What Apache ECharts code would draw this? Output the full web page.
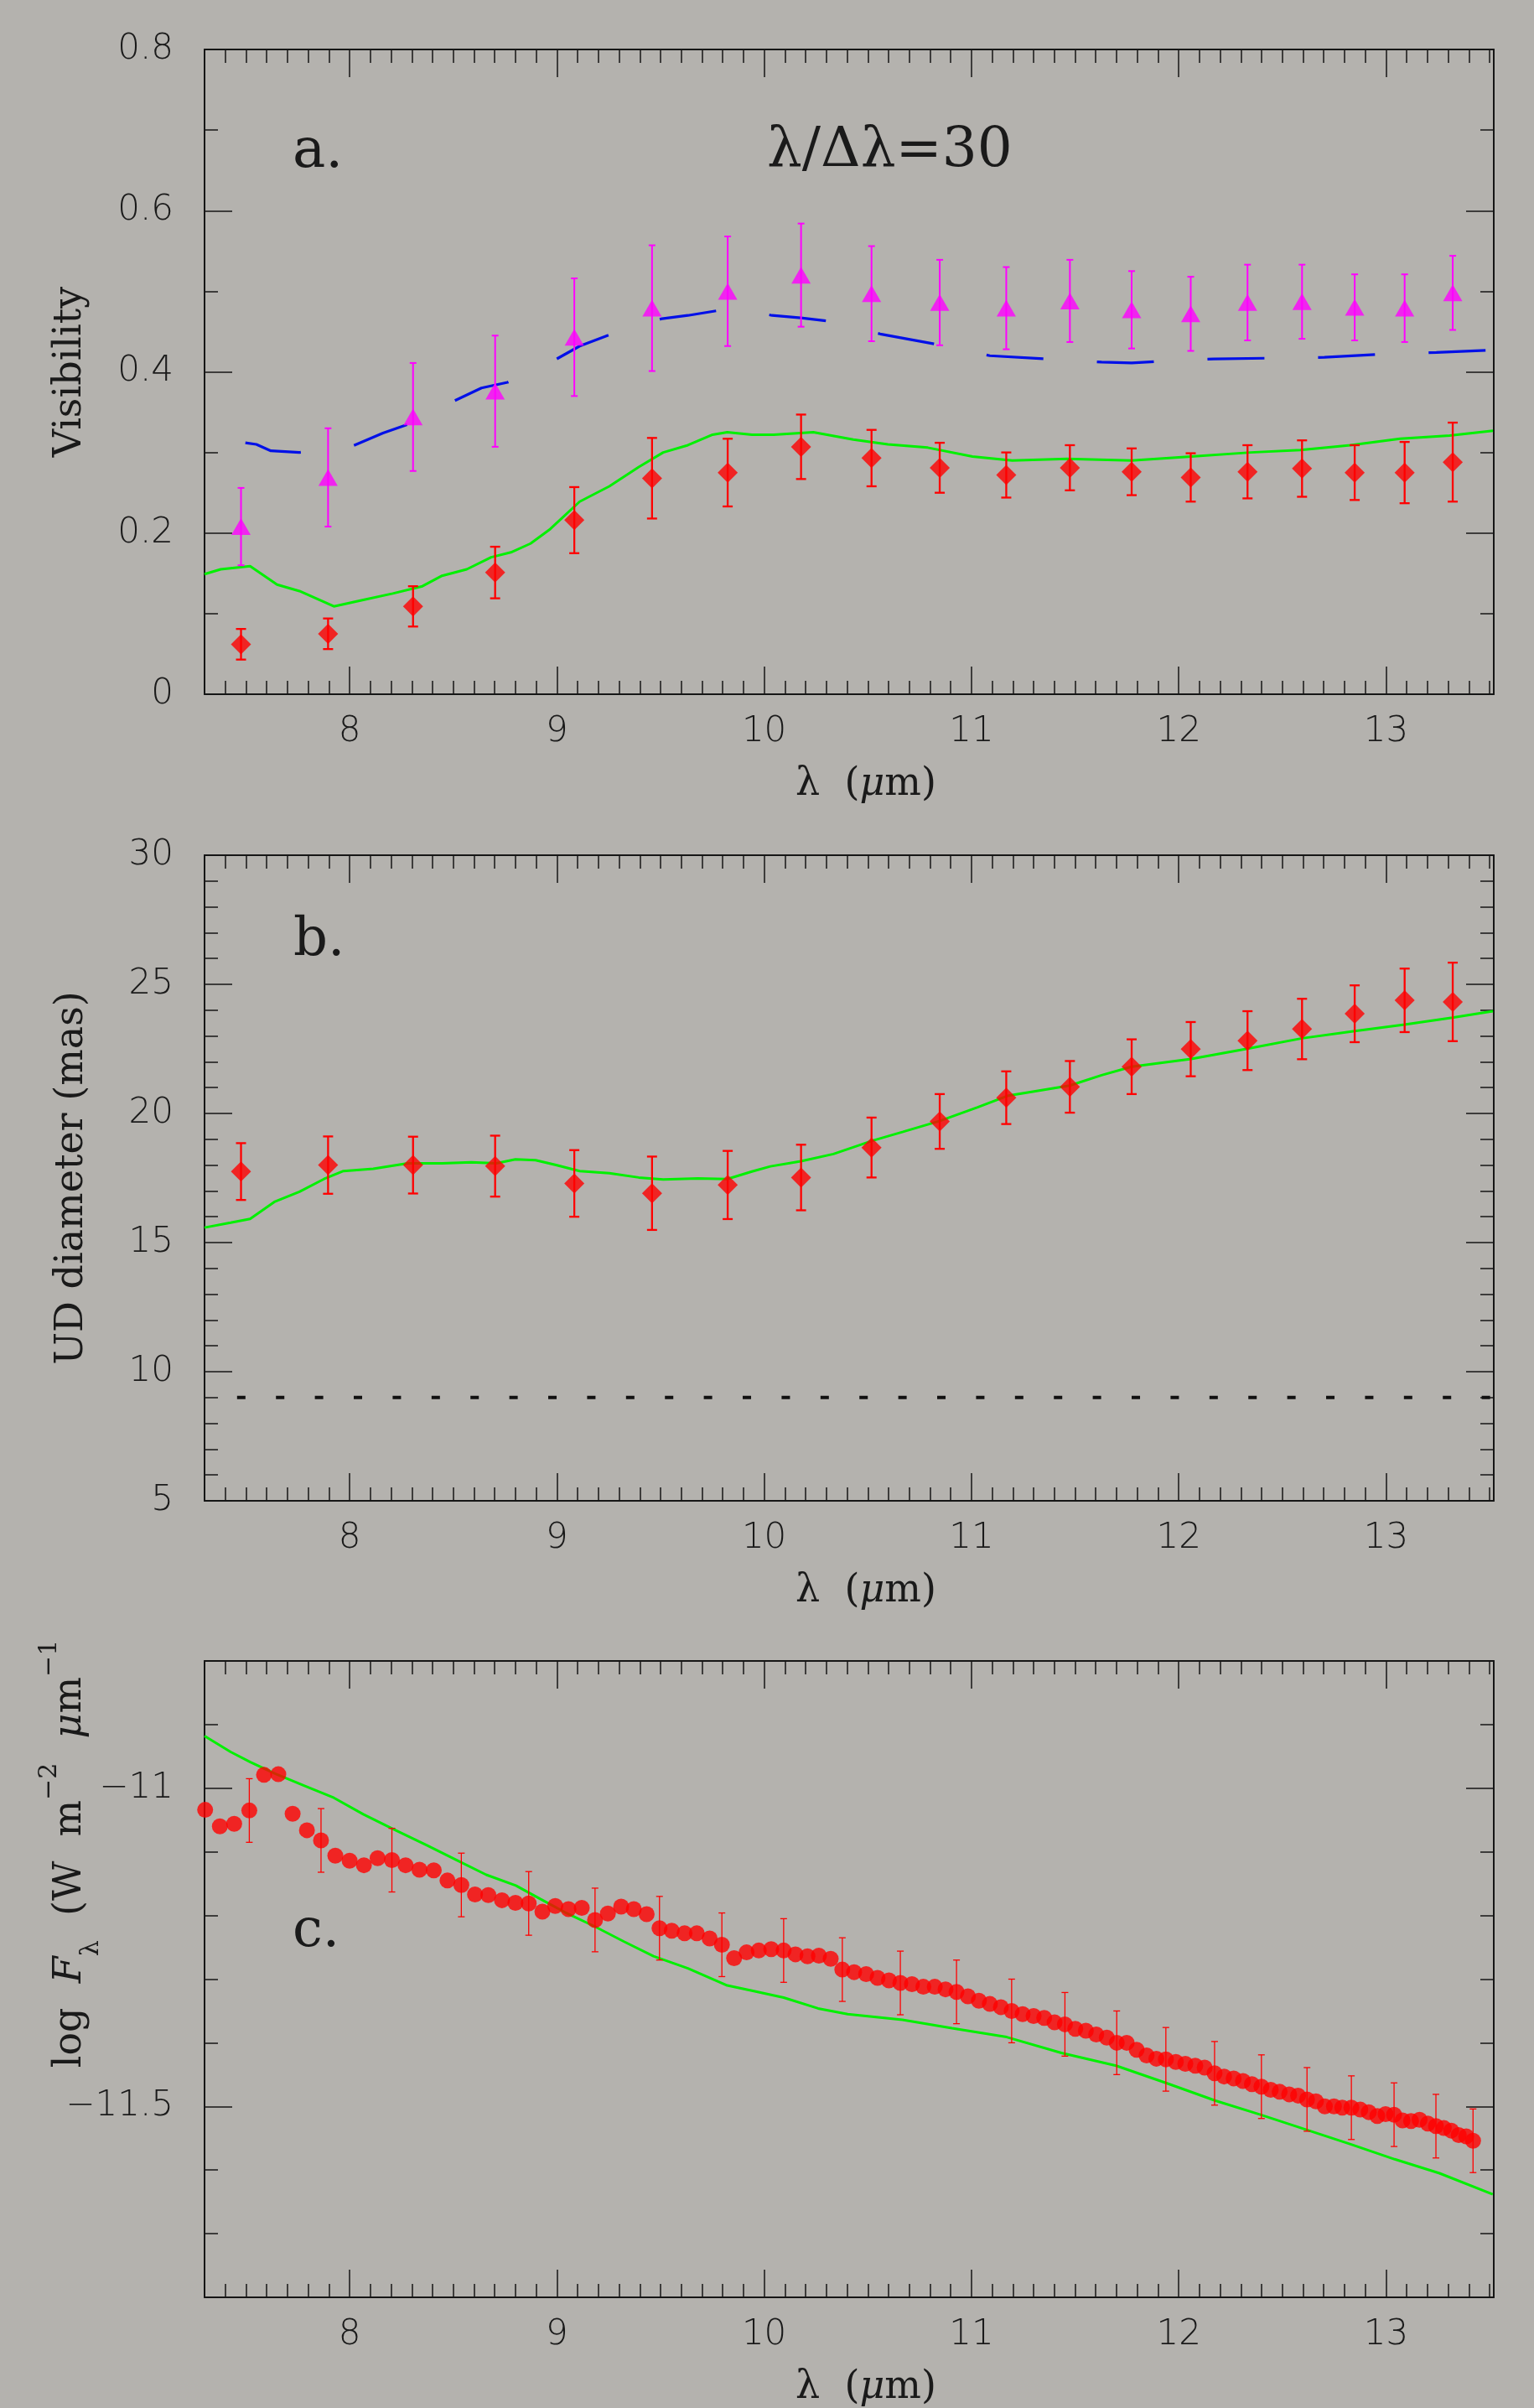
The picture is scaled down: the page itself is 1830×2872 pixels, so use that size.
<!DOCTYPE html>
<html><head><meta charset="utf-8">
<script src="https://cdn.jsdelivr.net/npm/echarts@6/dist/echarts.min.js"></script>
<style>html,body{margin:0;padding:0;background:#b4b2ae}#c{width:1830px;height:2872px}</style>
</head><body><div id="c"></div><script>
// ---------- DATA ----------
// wavelengths (micron) of the binned interferometric points (panels a and b)
const lam = [7.476, 7.896, 8.306, 8.702, 9.084, 9.459, 9.824, 10.178, 10.518, 10.847, 11.168, 11.475, 11.773, 12.058, 12.332, 12.595, 12.849, 13.090, 13.322];
// panel a: visibilities
const visRed = [0.062, 0.075, 0.109, 0.151, 0.216, 0.268, 0.275, 0.307, 0.293, 0.281, 0.272, 0.281, 0.276, 0.269, 0.276, 0.280, 0.275, 0.275, 0.288];
const visRedErr = [0.019, 0.019, 0.025, 0.032, 0.041, 0.050, 0.042, 0.040, 0.035, 0.031, 0.028, 0.028, 0.029, 0.030, 0.033, 0.035, 0.034, 0.038, 0.049];
const visMag = [0.208, 0.269, 0.344, 0.376, 0.443, 0.479, 0.500, 0.520, 0.497, 0.486, 0.479, 0.488, 0.477, 0.472, 0.486, 0.487, 0.480, 0.479, 0.498];
const visMagErr = [0.048, 0.061, 0.067, 0.069, 0.073, 0.078, 0.068, 0.064, 0.059, 0.053, 0.051, 0.051, 0.048, 0.046, 0.047, 0.046, 0.041, 0.042, 0.046];
const lamBlue = [7.497, 7.55, 7.62, 7.758, 8.014, 8.161, 8.304, 8.505, 8.636, 8.762, 8.999, 9.11, 9.253, 9.507, 9.632, 9.775, 9.90, 10.038, 10.177, 10.31, 10.56, 10.835, 11.089, 11.365, 11.628, 11.773, 11.903, 12.168, 12.443, 12.703, 12.978, 13.243, 13.516];
const visBlue = [0.312, 0.310, 0.302, 0.300, 0.308, 0.324, 0.337, 0.364, 0.380, 0.387, 0.416, 0.432, 0.446, 0.466, 0.470, 0.476, 0.477, 0.470, 0.467, 0.463, 0.447, 0.434, 0.420, 0.416, 0.412, 0.411, 0.413, 0.416, 0.417, 0.418, 0.422, 0.424, 0.427];
const lamGA = [7.3, 7.378, 7.52, 7.65, 7.758, 7.924, 8.066, 8.208, 8.351, 8.446, 8.565, 8.683, 8.778, 8.873, 8.968, 9.11, 9.253, 9.395, 9.513, 9.632, 9.751, 9.822, 9.941, 10.046, 10.237, 10.43, 10.597, 10.789, 11.005, 11.197, 11.461, 11.773, 12.06, 12.347, 12.587, 12.828, 13.068, 13.307, 13.516];
const visGA = [0.149, 0.155, 0.159, 0.136, 0.128, 0.109, 0.117, 0.125, 0.134, 0.147, 0.155, 0.170, 0.176, 0.187, 0.205, 0.239, 0.258, 0.282, 0.300, 0.309, 0.322, 0.325, 0.322, 0.322, 0.325, 0.316, 0.310, 0.306, 0.295, 0.290, 0.292, 0.290, 0.295, 0.300, 0.303, 0.309, 0.317, 0.321, 0.327];
// panel b: uniform-disk diameters (mas)
const udRed = [17.75, 18.0, 18.0, 17.96, 17.29, 16.91, 17.23, 17.52, 18.68, 19.69, 20.61, 21.03, 21.81, 22.49, 22.82, 23.27, 23.86, 24.38, 24.32];
const udErr = [1.10, 1.11, 1.10, 1.18, 1.29, 1.42, 1.32, 1.27, 1.16, 1.06, 1.02, 1.00, 1.06, 1.05, 1.14, 1.17, 1.10, 1.23, 1.52];
const lamGB = [7.3, 7.426, 7.52, 7.64, 7.758, 7.876, 7.97, 8.114, 8.28, 8.446, 8.588, 8.707, 8.80, 8.897, 8.992, 9.11, 9.253, 9.395, 9.513, 9.68, 9.822, 9.941, 10.03, 10.177, 10.334, 10.524, 10.67, 10.848, 11.03, 11.173, 11.474, 11.628, 11.773, 12.06, 12.332, 12.595, 12.849, 13.09, 13.32, 13.516];
const udGB = [15.58, 15.77, 15.92, 16.59, 16.97, 17.46, 17.77, 17.86, 18.07, 18.07, 18.11, 18.07, 18.22, 18.19, 18.01, 17.77, 17.69, 17.52, 17.44, 17.48, 17.46, 17.75, 17.95, 18.15, 18.43, 18.95, 19.29, 19.71, 20.24, 20.68, 21.08, 21.48, 21.81, 22.11, 22.51, 22.91, 23.19, 23.44, 23.71, 23.96];
const refLam = [7.457, 13.52];
const refDiam = [9.0, 9.0];
// panel c: spectrum
const lamC = [7.303, 7.374, 7.443, 7.516, 7.587, 7.656, 7.725, 7.794, 7.862, 7.931, 8.000, 8.069, 8.135, 8.204, 8.270, 8.337, 8.406, 8.472, 8.539, 8.605, 8.669, 8.735, 8.800, 8.864, 8.930, 8.992, 9.056, 9.120, 9.184, 9.246, 9.310, 9.371, 9.433, 9.495, 9.554, 9.616, 9.675, 9.737, 9.796, 9.855, 9.915, 9.974, 10.034, 10.094, 10.151, 10.209, 10.264, 10.321, 10.377, 10.434, 10.492, 10.547, 10.602, 10.657, 10.713, 10.768, 10.823, 10.875, 10.928, 10.983, 11.036, 11.089, 11.142, 11.194, 11.247, 11.300, 11.351, 11.401, 11.451, 11.501, 11.552, 11.602, 11.653, 11.701, 11.749, 11.797, 11.845, 11.892, 11.938, 11.986, 12.032, 12.080, 12.125, 12.173, 12.219, 12.265, 12.310, 12.353, 12.399, 12.444, 12.487, 12.533, 12.576, 12.619, 12.662, 12.705, 12.749, 12.789, 12.833, 12.876, 12.917, 12.958, 12.998, 13.039, 13.080, 13.121, 13.162, 13.202, 13.241, 13.279, 13.315, 13.351, 13.387, 13.420];
const fluxC = [-11.034, -11.060, -11.056, -11.035, -10.979, -10.978, -11.040, -11.066, -11.082, -11.106, -11.114, -11.121, -11.110, -11.113, -11.121, -11.128, -11.129, -11.145, -11.152, -11.167, -11.168, -11.176, -11.180, -11.181, -11.194, -11.185, -11.190, -11.188, -11.207, -11.197, -11.186, -11.190, -11.198, -11.220, -11.224, -11.228, -11.228, -11.236, -11.246, -11.267, -11.258, -11.255, -11.253, -11.255, -11.261, -11.264, -11.263, -11.268, -11.285, -11.289, -11.292, -11.298, -11.302, -11.306, -11.308, -11.312, -11.312, -11.316, -11.320, -11.327, -11.334, -11.339, -11.344, -11.350, -11.355, -11.358, -11.361, -11.368, -11.371, -11.378, -11.381, -11.387, -11.392, -11.400, -11.400, -11.411, -11.420, -11.425, -11.426, -11.430, -11.433, -11.436, -11.439, -11.448, -11.453, -11.456, -11.460, -11.465, -11.469, -11.474, -11.477, -11.481, -11.483, -11.489, -11.492, -11.500, -11.500, -11.502, -11.502, -11.505, -11.509, -11.515, -11.512, -11.513, -11.522, -11.523, -11.521, -11.527, -11.531, -11.534, -11.538, -11.545, -11.547, -11.554];
// error bar half-widths on every fifth spectral point (null = no bar drawn)
const fluxErrC = lamC.map((_, i) => (i % 5 === 3 ? 0.05 : null));
const lamGC = [7.3, 7.426, 7.521, 7.64, 7.782, 7.924, 8.066, 8.209, 8.375, 8.517, 8.659, 8.802, 8.92, 9.039, 9.181, 9.324, 9.466, 9.632, 9.822, 9.941, 10.094, 10.26, 10.403, 10.667, 10.906, 11.17, 11.434, 11.698, 11.938, 12.178, 12.394, 12.61, 12.826, 13.042, 13.258, 13.515];
const fluxGC = [-10.918, -10.943, -10.959, -10.977, -10.996, -11.015, -11.041, -11.064, -11.090, -11.113, -11.136, -11.153, -11.174, -11.195, -11.217, -11.241, -11.264, -11.283, -11.310, -11.318, -11.329, -11.346, -11.355, -11.364, -11.377, -11.391, -11.416, -11.436, -11.463, -11.491, -11.513, -11.536, -11.559, -11.583, -11.605, -11.638];
// tick labels
const xTickLabels = [8, 9, 10, 11, 12, 13];
const visTickLabels = [0, 0.2, 0.4, 0.6, 0.8];
const udTickLabels = [5, 10, 15, 20, 25, 30];
const fluxTickLabels = [-11.5, -11];

// ---------- HELPERS ----------
function range(a, b, step) { const r = []; const n = Math.round((b - a) / step); for (let k = 0; k <= n; k++) r.push(+(a + k * step).toFixed(4)); return r; }
const AX = '#161616';
const INK = '#1a1a1a';
const TICKFONT = { fontFamily: "'DejaVu Sans'", fontWeight: 200, fontSize: 42, color: INK };
const TITLEFONT = { fontFamily: "'DejaVu Serif'", fontSize: 46, color: INK };
const MAJ = 33, MIN = 16;

function axes(gi, dim, min, max, major, minor, labelOpts, nameOpts) {
  const pos = dim === 'x' ? ['bottom', 'bottom', 'top', 'top'] : ['left', 'left', 'right', 'right'];
  const out = [];
  for (let k = 0; k < 4; k++) {
    const isMajor = k % 2 === 0;
    const a = {
      type: 'value', gridIndex: gi, position: pos[k], min, max,
      axisLine: { show: isMajor, onZero: false, lineStyle: { color: AX, width: 2 } },
      axisTick: { show: true, inside: true, length: isMajor ? MAJ : MIN, customValues: isMajor ? major : minor, lineStyle: { color: AX, width: 1.5 } },
      axisLabel: { show: false },
      splitLine: { show: false }, minorTick: { show: false }
    };
    if (k === 0) {
      a.axisLabel = Object.assign({ show: true, customValues: labelOpts.values, showMinLabel: true, showMaxLabel: true, margin: labelOpts.margin, formatter: labelOpts.formatter }, TICKFONT);
      if (nameOpts) Object.assign(a, nameOpts);
    }
    out.push(a);
  }
  return out;
}
const xMinor = range(7.3, 13.5, 0.1);
const xName = { name: 'λ  ({i|μ}m)', nameLocation: 'middle', nameGap: 85, nameTextStyle: Object.assign({ padding: [0, 0, 0, 40], rich: { i: { fontFamily: "'DejaVu Serif'", fontStyle: 'italic', fontSize: 46, color: INK } } }, TITLEFONT) };
const xLab = { values: xTickLabels, margin: 24 };
const minusFmt = v => String(v).replace('-', '\u2212');

const xAxis = [].concat(
  axes(0, 'x', 7.3, 13.52, xTickLabels, xMinor, xLab, xName),
  axes(1, 'x', 7.3, 13.52, xTickLabels, xMinor, xLab, xName),
  axes(2, 'x', 7.3, 13.52, xTickLabels, xMinor, xLab, xName)
);
const yAxis = [].concat(
  axes(0, 'y', 0, 0.8, visTickLabels, range(0, 0.8, 0.1), { values: visTickLabels, margin: 37 },
    { name: 'Visibility', nameLocation: 'middle', nameGap: 137, nameTextStyle: TITLEFONT }),
  axes(1, 'y', 5, 30, udTickLabels, range(5, 30, 1), { values: udTickLabels, margin: 37 },
    { name: 'UD diameter (mas)', nameLocation: 'middle', nameGap: 135, nameTextStyle: TITLEFONT }),
  axes(2, 'y', -11.8, -10.8, fluxTickLabels, range(-11.8, -10.8, 0.1), { values: fluxTickLabels, margin: 37, formatter: minusFmt }, null)
);

function errSeries(xi, pts, color, lw, cap, z) {
  return {
    type: 'custom', xAxisIndex: xi, yAxisIndex: xi, data: pts, z, silent: true,
    encode: { x: 0, y: 1 },
    renderItem(params, api) {
      const x = api.value(0), y = api.value(1), e = api.value(2);
      const a = api.coord([x, y + e]), b = api.coord([x, y - e]);
      const st = { stroke: color, lineWidth: lw };
      return { type: 'group', children: [
        { type: 'line', shape: { x1: a[0], y1: a[1], x2: b[0], y2: b[1] }, style: st },
        { type: 'line', shape: { x1: a[0] - cap / 2, y1: a[1], x2: a[0] + cap / 2, y2: a[1] }, style: st },
        { type: 'line', shape: { x1: b[0] - cap / 2, y1: b[1], x2: b[0] + cap / 2, y2: b[1] }, style: st }
      ] };
    }
  };
}
function lineSeries(xi, xs, ys, color, width, type, z) {
  return { type: 'line', xAxisIndex: xi, yAxisIndex: xi, data: xs.map((x, i) => [x, ys[i]]), showSymbol: false, symbol: 'none', silent: true, z,
    lineStyle: { color, width, type: type || 'solid', cap: 'butt' } };
}
const zip = (a, b) => a.map((x, i) => [x, b[i]]);
const zip3 = (a, b, c) => a.map((x, i) => [x, b[i], c[i]]);

const RED = '#ff0000', MAG = '#ff00ff', GREEN = '#00f000', BLUE = '#0010e8';

const series = [
  // panel a
  lineSeries(0, lamGA, visGA, GREEN, 3, null, 2),
  lineSeries(0, lamBlue, visBlue, BLUE, 3.2, [68, 64], 2),
  errSeries(0, zip3(lam, visRed, visRedErr), RED, 2.3, 12, 3),
  { type: 'scatter', xAxisIndex: 0, yAxisIndex: 0, data: zip(lam, visRed), symbol: 'diamond', symbolSize: 24, itemStyle: { color: RED }, z: 4, silent: true },
  errSeries(0, zip3(lam, visMag, visMagErr), MAG, 2, 8, 3),
  { type: 'scatter', xAxisIndex: 0, yAxisIndex: 0, data: zip(lam, visMag), symbol: 'triangle', symbolSize: [23, 20], itemStyle: { color: MAG }, z: 4, silent: true },
  // panel b
  lineSeries(4, lamGB, udGB, GREEN, 3, null, 2),
  lineSeries(4, refLam, refDiam, '#111111', 4, [10, 36.4], 2),
  errSeries(4, zip3(lam, udRed, udErr), RED, 2.3, 12, 3),
  { type: 'scatter', xAxisIndex: 4, yAxisIndex: 4, data: zip(lam, udRed), symbol: 'diamond', symbolSize: 24, itemStyle: { color: RED }, z: 4, silent: true },
  // panel c
  lineSeries(8, lamGC, fluxGC, GREEN, 3, null, 2),
  errSeries(8, zip3(lamC, fluxC, fluxErrC).filter(p => p[2] != null), RED, 1.3, 8, 3),
  { type: 'scatter', xAxisIndex: 8, yAxisIndex: 8, data: zip(lamC, fluxC), symbol: 'circle', symbolSize: 19, itemStyle: { color: RED }, z: 4, silent: true }
];

const SERIF = "'DejaVu Serif'";
const graphic = [
  { type: 'text', x: 349, y: 182, style: { text: 'a.', font: `66px ${SERIF}`, fill: INK, align: 'left', verticalAlign: 'middle' } },
  { type: 'text', x: 915, y: 181, style: { text: 'λ/Δλ=30', font: `66px ${SERIF}`, fill: INK, align: 'left', verticalAlign: 'middle' } },
  { type: 'text', x: 350, y: 1122, style: { text: 'b.', font: `64px ${SERIF}`, fill: INK, align: 'left', verticalAlign: 'middle' } },
  { type: 'text', x: 349, y: 2304, style: { text: 'c.', font: `64px ${SERIF}`, fill: INK, align: 'left', verticalAlign: 'middle' } },
  { type: 'text', x: 84, y: 2211, rotation: Math.PI / 2, style: {
      text: '{n|log  }{it|F}{sub|λ}{n|  (W  m}{sup|−2}{n|  }{it|μ}{n|m}{sup|−1}',
      align: 'center', verticalAlign: 'middle',
      rich: {
        n: { fontFamily: SERIF, fontSize: 46, lineHeight: 80, verticalAlign: 'middle', fill: INK },
        it: { fontFamily: SERIF, fontStyle: 'italic', fontSize: 46, lineHeight: 80, verticalAlign: 'middle', fill: INK },
        sup: { fontFamily: SERIF, fontSize: 30, lineHeight: 40, verticalAlign: 'top', fill: INK },
        sub: { fontFamily: SERIF, fontSize: 30, lineHeight: 30, verticalAlign: 'bottom', fill: INK }
      } } }
];

const chart = echarts.init(document.getElementById('c'), null, { renderer: 'canvas' });
chart.setOption({
  animation: false,
  backgroundColor: '#b4b2ae',
  grid: [
    { left: 244, right: 48, top: 59, height: 769 },
    { left: 244, right: 48, top: 1020, height: 770 },
    { left: 244, right: 48, top: 1981, height: 769 }
  ],
  xAxis, yAxis, series, graphic
});
</script></body></html>
